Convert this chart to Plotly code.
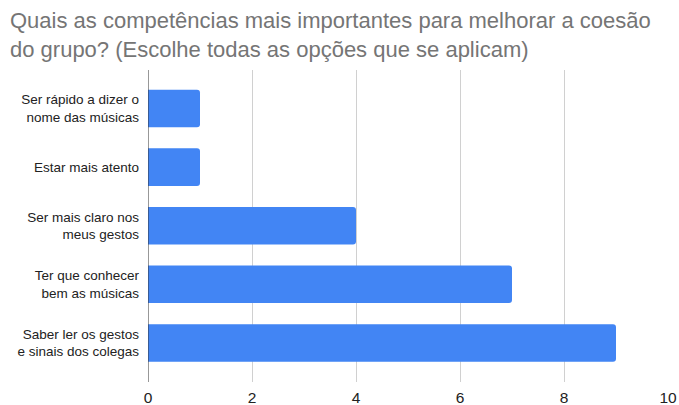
import plotly.graph_objects as go

# Survey responses: number of people choosing each skill
categories = [
    "Ser rápido a dizer o<br>nome das músicas",
    "Estar mais atento",
    "Ser mais claro nos<br>meus gestos",
    "Ter que conhecer<br>bem as músicas",
    "Saber ler os gestos<br>e sinais dos colegas",
]
counts = [1, 1, 4, 7, 9]
x_ticks = [0, 2, 4, 6, 8, 10]

title_text = ("Quais as competências mais importantes para melhorar a coesão<br>"
              "do grupo? (Escolhe todas as opções que se aplicam)")

W, H = 679, 405
M_L, M_R, M_T, M_B = 148, 11, 70, 23
plot_w = W - M_L - M_R
plot_h = H - M_T - M_B

fig = go.Figure(
    go.Bar(
        x=counts,
        y=categories,
        orientation="h",
        marker=dict(color="#4285F4", line=dict(width=0), cornerradius=3),
        width=0.64,
    )
)

fig.update_layout(
    width=W,
    height=H,
    paper_bgcolor="white",
    plot_bgcolor="white",
    margin=dict(l=M_L, r=M_R, t=M_T, b=M_B),
    showlegend=False,
    font=dict(family="Liberation Sans, Arial, sans-serif", color="#222222"),
)

# Two-line title in the top-left corner
fig.add_annotation(
    text=title_text,
    xref="paper", yref="paper",
    x=(8 - M_L) / plot_w, xanchor="left",
    y=1 + (M_T - 6) / plot_h, yanchor="top",
    align="left",
    showarrow=False,
    font=dict(size=22, color="#757575", family="Liberation Sans, Arial, sans-serif"),
)

fig.update_xaxes(
    range=[0, 10],
    tickvals=x_ticks,
    ticktext=[str(v) for v in x_ticks],
    showgrid=True,
    gridcolor="#d0d0d0",
    gridwidth=1,
    zeroline=False,
    ticks="",
    ticklabelstandoff=4,
    tickfont=dict(size=15.5, color="#222222"),
    showline=False,
    automargin=False,
    fixedrange=True,
)

fig.update_yaxes(
    categoryorder="array",
    categoryarray=categories[::-1],
    range=[-0.666, 4.657],
    showgrid=False,
    zeroline=False,
    showline=False,
    ticks="",
    ticklabelstandoff=8,
    tickfont=dict(size=13.5, color="#222222"),
    automargin=False,
    fixedrange=True,
)

# Dark baseline at zero
fig.add_shape(
    type="line",
    xref="x", yref="paper",
    x0=0, x1=0, y0=0, y1=1,
    line=dict(color="#333333", width=1),
)

fig.write_html("out.html")
